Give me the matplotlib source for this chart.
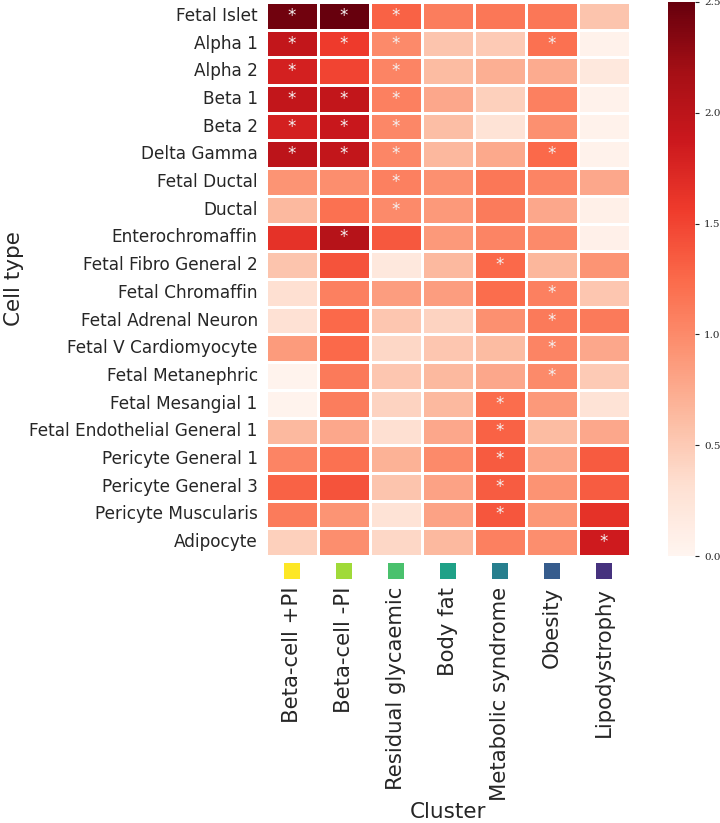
import numpy as np
import pandas as pd
import matplotlib
matplotlib.use("Agg")
import matplotlib.pyplot as plt
import seaborn as sns

cell_types = ["Fetal Islet", "Alpha 1", "Alpha 2", "Beta 1", "Beta 2", "Delta Gamma",
              "Fetal Ductal", "Ductal", "Enterochromaffin", "Fetal Fibro General 2",
              "Fetal Chromaffin", "Fetal Adrenal Neuron", "Fetal V Cardiomyocyte",
              "Fetal Metanephric", "Fetal Mesangial 1", "Fetal Endothelial General 1",
              "Pericyte General 1", "Pericyte General 3", "Pericyte Muscularis", "Adipocyte"]
clusters = ["Beta-cell +PI", "Beta-cell -PI", "Residual glycaemic", "Body fat",
            "Metabolic syndrome", "Obesity", "Lipodystrophy"]

beta_pi_pos = [2.45, 1.95, 1.80, 1.95, 1.80, 2.00, 0.92, 0.64, 1.65, 0.55,
               0.32, 0.30, 0.87, 0.03, 0.03, 0.64, 1.05, 1.30, 1.12, 0.45]
beta_pi_neg = [2.50, 1.57, 1.50, 1.95, 1.90, 1.95, 0.97, 1.20, 2.05, 1.40,
               1.08, 1.25, 1.25, 1.13, 1.10, 0.78, 1.20, 1.40, 0.92, 0.97]
residual = [1.30, 1.00, 1.05, 1.08, 1.02, 1.03, 1.08, 1.00, 1.37, 0.20,
            0.85, 0.53, 0.40, 0.53, 0.42, 0.32, 0.70, 0.55, 0.28, 0.40]
body_fat = [1.10, 0.55, 0.62, 0.78, 0.60, 0.65, 0.95, 0.88, 0.88, 0.64,
            0.85, 0.42, 0.53, 0.64, 0.64, 0.78, 1.00, 0.82, 0.82, 0.64]
met_syn = [1.15, 0.50, 0.72, 0.45, 0.28, 0.77, 1.15, 1.12, 1.05, 1.25,
           1.23, 0.95, 0.62, 0.78, 1.23, 1.30, 1.35, 1.34, 1.38, 1.08]
obesity = [1.15, 1.20, 0.75, 1.08, 0.95, 1.25, 1.05, 0.78, 1.00, 0.66,
           1.08, 1.13, 1.05, 1.00, 0.88, 0.62, 0.80, 0.93, 0.90, 0.97]
lipodys = [0.55, 0.05, 0.20, 0.05, 0.05, 0.05, 0.78, 0.08, 0.07, 0.92,
           0.53, 1.13, 0.78, 0.50, 0.28, 0.78, 1.35, 1.34, 1.65, 1.85]

# significant cells: (row, column)
signif = [(0, 0), (0, 1), (0, 2), (1, 0), (1, 1), (1, 2), (1, 5), (2, 0), (2, 2),
          (3, 0), (3, 1), (3, 2), (4, 0), (4, 1), (4, 2), (5, 0), (5, 1), (5, 2), (5, 5),
          (6, 2), (7, 2), (8, 1), (9, 4), (10, 5), (11, 5), (12, 5), (13, 5),
          (14, 4), (15, 4), (16, 4), (17, 4), (18, 4), (19, 6)]

cluster_colors = ["#fde725", "#a0da39", "#4ac16d", "#1fa187", "#277f8e", "#365c8d", "#46327e"]

df = pd.DataFrame({c: v for c, v in zip(clusters, [beta_pi_pos, beta_pi_neg, residual, body_fat,
                                                    met_syn, obesity, lipodys])}, index=cell_types)
annot = np.full(df.shape, "", dtype=object)
for r, c in signif:
    annot[r, c] = "*"

sns.set_theme(style="white")
plt.rcParams["font.family"] = ["DejaVu Sans"]

fig = plt.figure(figsize=(7.2, 8.23), dpi=100)
ax = fig.add_axes([0.3694, 0.3244, 0.5056, 0.6732])
cax = fig.add_axes([0.9278, 0.3244, 0.0375, 0.6732])

sns.heatmap(df, ax=ax, cbar_ax=cax, cmap="Reds", vmin=0, vmax=2.5, linewidths=1,
            linecolor="white", annot=annot, fmt="",
            annot_kws={"color": "#f4f0f0", "fontsize": 12})

ax.tick_params(axis="y", labelsize=12.2, length=0, pad=6)
ax.tick_params(axis="x", labelsize=15.3, length=0, pad=22)
ax.set_xticklabels(clusters, rotation=90)
ax.set_yticklabels(cell_types, rotation=0)
ax.set_ylabel("Cell type", fontsize=15.5, labelpad=4)
ax.set_xlabel("Cluster", fontsize=15.5, labelpad=1)

ax.scatter(np.arange(len(clusters)) + 0.5, [20.55] * len(clusters), marker="s", s=130,
           c=cluster_colors, clip_on=False, linewidths=0)

cax.tick_params(labelsize=7.5, length=3, width=0.8, left=False, right=True)
cax.set_yticks([0, 0.5, 1.0, 1.5, 2.0, 2.5])
cax.set_yticklabels(["0.0", "0.5", "1.0", "1.5", "2.0", "2.5"], family="DejaVu Serif", fontsize=7.5)

fig.savefig("out.png", dpi=100)
